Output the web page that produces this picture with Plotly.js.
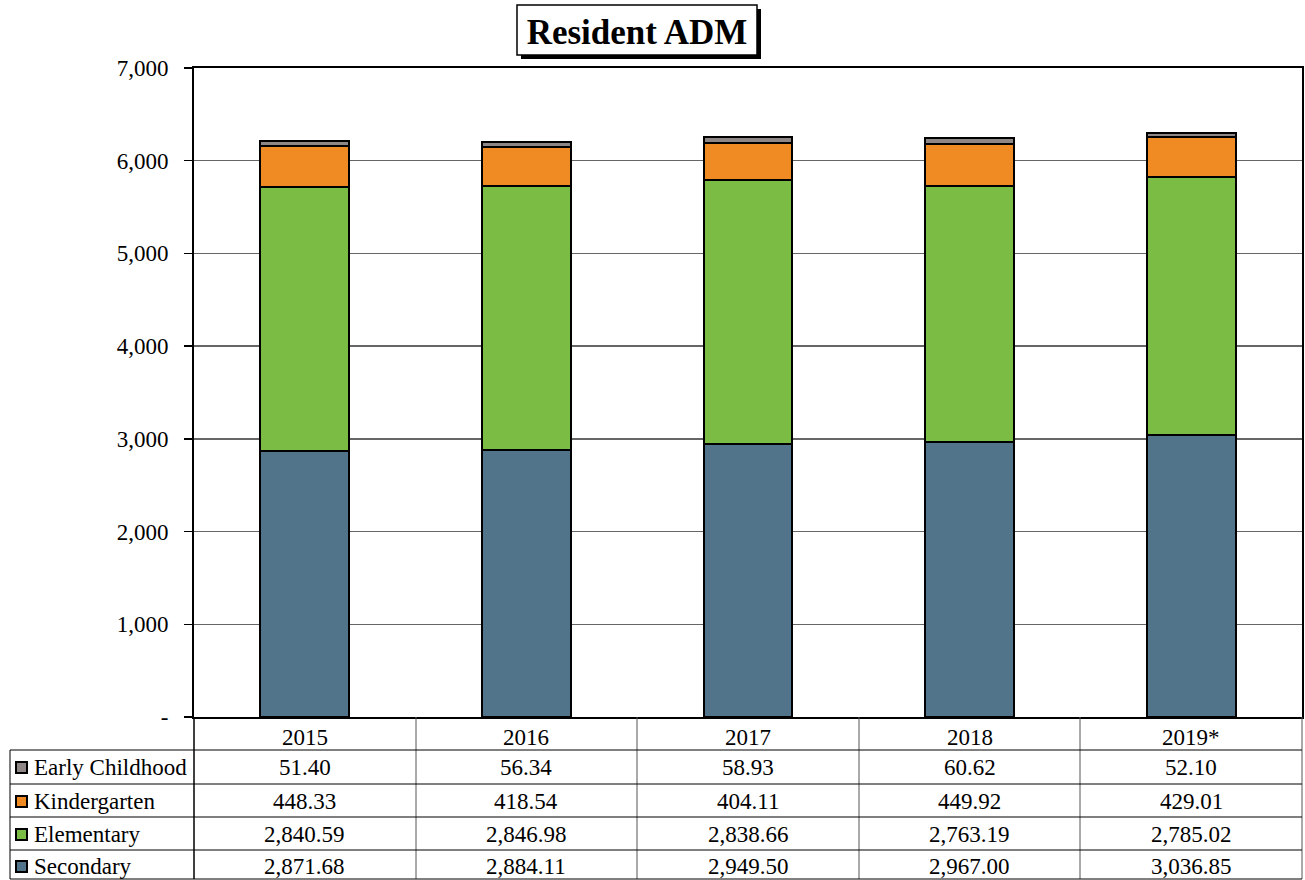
<!DOCTYPE html>
<html>
<head>
<meta charset="utf-8">
<script src="https://cdn.plot.ly/plotly-3.0.1.min.js"></script>
<style>html,body{margin:0;padding:0;background:#fff;}#chart{width:1305px;height:880px;}</style>
</head>
<body>
<div id="chart"></div>
<script>
// ---- data ----
const years = ['2015', '2016', '2017', '2018', '2019*'];
const seriesNames = ['Early Childhood', 'Kindergarten', 'Elementary', 'Secondary'];
const earlyChildhood = [51.40, 56.34, 58.93, 60.62, 52.10];
const kindergarten = [448.33, 418.54, 404.11, 449.92, 429.01];
const elementary = [2840.59, 2846.98, 2838.66, 2763.19, 2785.02];
const secondary = [2871.68, 2884.11, 2949.50, 2967.00, 3036.85];
const yTickVals = [0, 1000, 2000, 3000, 4000, 5000, 6000, 7000];
const yTickText = ['-', '1,000', '2,000', '3,000', '4,000', '5,000', '6,000', '7,000'];

// ---- styles ----
const colors = {
  'Early Childhood': '#8E8785',
  'Kindergarten': '#F08A22',
  'Elementary': '#7BBC44',
  'Secondary': '#52748A'
};
const FONT = 'Liberation Serif, Times New Roman, serif';
const FS = 23;
const W = 1305, H = 880;
const L = 194, R = 1302, T = 68, B = 717;
const px2x = p => (p - L) / (R - L);
const py2y = p => (B - p) / (B - T);

const seriesData = {
  'Early Childhood': earlyChildhood,
  'Kindergarten': kindergarten,
  'Elementary': elementary,
  'Secondary': secondary
};
const stackOrder = ['Secondary', 'Elementary', 'Kindergarten', 'Early Childhood'];
const xIdx = years.map((_, i) => i);

const traces = stackOrder.map(name => ({
  type: 'bar',
  name: name,
  x: xIdx,
  y: seriesData[name],
  marker: { color: colors[name], line: { color: '#000', width: 2 } },
  hoverinfo: 'y+name'
}));

const shapes = [];
const annotations = [];

// title box with shadow
shapes.push({ type: 'rect', xref: 'paper', yref: 'paper',
  x0: px2x(521), x1: px2x(761), y0: py2y(59), y1: py2y(9),
  fillcolor: '#000', line: { width: 0 }, layer: 'above' });
shapes.push({ type: 'rect', xref: 'paper', yref: 'paper',
  x0: px2x(517), x1: px2x(757), y0: py2y(55), y1: py2y(5),
  fillcolor: '#fff', line: { color: '#000', width: 1.5 }, layer: 'above' });

// table rows (pixel y boundaries)
const rowLines = [750, 784, 817, 850, 879];
const rowCenters = [767, 801, 834, 866];
const headerCenter = 737;
const colLines = [416, 637, 859, 1080, 1302];
const tableLine = { color: '#000', width: 1 };

colLines.forEach(cx => {
  shapes.push({ type: 'line', xref: 'paper', yref: 'paper',
    x0: px2x(cx), x1: px2x(cx), y0: py2y(B), y1: py2y(879),
    line: { color: '#555', width: 1 } });
});
shapes.push({ type: 'line', xref: 'paper', yref: 'paper',
  x0: 0, x1: 0, y0: py2y(B), y1: py2y(879), line: { color: '#000', width: 1.5 } });
shapes.push({ type: 'line', xref: 'paper', yref: 'paper',
  x0: px2x(10), x1: px2x(10), y0: py2y(750), y1: py2y(879), line: tableLine });
rowLines.forEach(ry => {
  shapes.push({ type: 'line', xref: 'paper', yref: 'paper',
    x0: px2x(10), x1: px2x(R), y0: py2y(ry), y1: py2y(ry), line: tableLine });
});

// header row: category labels
years.forEach((yr, j) => {
  annotations.push({ xref: 'x', yref: 'paper', x: xIdx[j], y: py2y(headerCenter),
    xanchor: 'center', yanchor: 'middle', showarrow: false, text: yr,
    font: { family: FONT, size: FS, color: '#000' } });
});

// legend keys, row labels, values
seriesNames.forEach((name, i) => {
  const cy = rowCenters[i];
  shapes.push({ type: 'rect', xref: 'paper', yref: 'paper',
    x0: px2x(16), x1: px2x(27), y0: py2y(cy + 6), y1: py2y(cy - 5),
    fillcolor: colors[name], line: { color: '#000', width: 2 } });
  annotations.push({ xref: 'paper', yref: 'paper', x: px2x(32), y: py2y(cy),
    xanchor: 'left', yanchor: 'middle', showarrow: false, text: name,
    font: { family: FONT, size: FS, color: '#000' } });
  seriesData[name].forEach((v, j) => {
    annotations.push({ xref: 'x', yref: 'paper', x: xIdx[j], y: py2y(cy),
      xanchor: 'center', yanchor: 'middle', showarrow: false,
      text: v.toLocaleString('en-US', { minimumFractionDigits: 2, maximumFractionDigits: 2 }),
      font: { family: FONT, size: FS, color: '#000' } });
  });
});

const layout = {
  width: W, height: H,
  margin: { l: L, r: W - R, t: T, b: H - B, pad: 0 },
  paper_bgcolor: '#fff', plot_bgcolor: '#fff',
  barmode: 'stack', bargap: 0.6,
  showlegend: false,
  title: { text: '<b>Resident ADM</b>', x: 637 / W, xanchor: 'center', xref: 'container',
    y: 1 - 32 / H, yanchor: 'middle', yref: 'container',
    font: { family: FONT, size: 35, color: '#000' } },
  xaxis: {
    range: [-0.5, 4.5], tickvals: xIdx, ticktext: years, showticklabels: false,
    showline: true, linecolor: '#000', linewidth: 2, mirror: true,
    ticks: '', showgrid: false, zeroline: false, fixedrange: true
  },
  yaxis: {
    range: [0, 7000], tickvals: yTickVals, ticktext: yTickText,
    showline: true, linecolor: '#000', linewidth: 2, mirror: true,
    ticks: 'outside', ticklen: 8, tickwidth: 1.5, tickcolor: '#000',
    showgrid: true, gridcolor: '#666', gridwidth: 1.5, zeroline: false,
    ticklabelstandoff: 11,
    tickfont: { family: FONT, size: FS, color: '#000' }, fixedrange: true
  },
  shapes: shapes,
  annotations: annotations,
  font: { family: FONT }
};

Plotly.newPlot('chart', traces, layout, { displayModeBar: false, staticPlot: true });
</script>
</body>
</html>
